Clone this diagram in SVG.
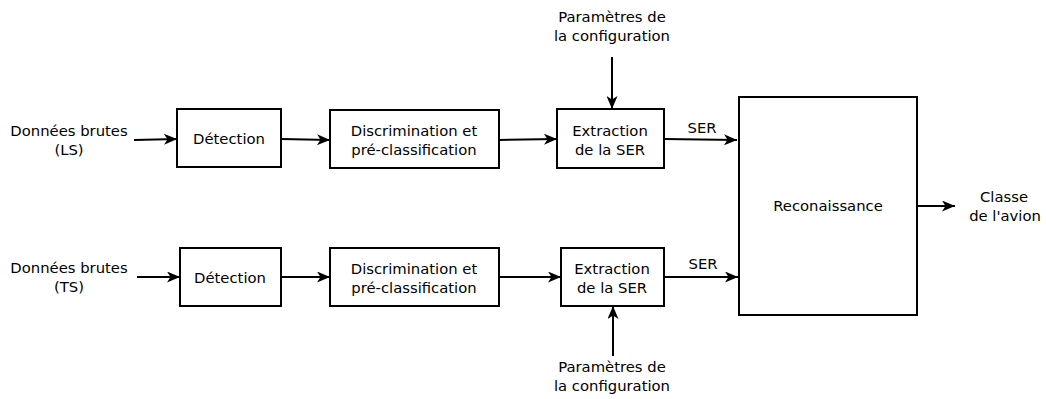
<svg xmlns="http://www.w3.org/2000/svg" width="1046" height="399" viewBox="0 0 1046 399">
<style>
.box{fill:#fff;stroke:#000;stroke-width:2}
.t{font-family:"DejaVu Sans",sans-serif;font-size:14.8px;fill:#000;text-anchor:middle}
.c{stroke:#000;stroke-width:2;fill:none;marker-end:url(#ah)}
</style>
<defs>
<marker id="ah" viewBox="0 0 13 11" refX="13" refY="5.5" markerWidth="13" markerHeight="11" markerUnits="userSpaceOnUse" orient="auto">
<path d="M0,0 L13,5.5 L0,11 L3.5,5.5 Z" fill="#000"/>
</marker>
</defs>
<rect width="1046" height="399" fill="#fff"/>
<g id="in-ls"><text class="t" x="69" y="136">Données brutes</text><text class="t" x="69" y="155">(LS)</text></g>
<g id="in-ts"><text class="t" x="69" y="273">Données brutes</text><text class="t" x="69" y="292">(TS)</text></g>
<g id="det1"><rect class="box" x="177" y="109" width="104" height="58"/><text class="t" x="229" y="144">Détection</text></g>
<g id="disc1"><rect class="box" x="330" y="110" width="169" height="58"/><text class="t" x="414" y="136">Discrimination et</text><text class="t" x="414" y="155">pré-classification</text></g>
<g id="ext1"><rect class="box" x="557" y="109" width="107" height="59"/><text class="t" x="610" y="136">Extraction</text><text class="t" x="610" y="155">de la SER</text></g>
<g id="det2"><rect class="box" x="180" y="248" width="101" height="58"/><text class="t" x="230" y="283">Détection</text></g>
<g id="disc2"><rect class="box" x="330" y="248" width="169" height="58"/><text class="t" x="414" y="274">Discrimination et</text><text class="t" x="414" y="293">pré-classification</text></g>
<g id="ext2"><rect class="box" x="561" y="248" width="103" height="58"/><text class="t" x="612" y="274">Extraction</text><text class="t" x="612" y="293">de la SER</text></g>
<g id="reco"><rect class="box" x="739" y="97" width="178" height="218"/><text class="t" x="828" y="211">Reconaissance</text></g>
<g id="param1"><text class="t" x="612" y="22">Paramètres de</text><text class="t" x="612" y="41">la configuration</text></g>
<g id="param2"><text class="t" x="612" y="372">Paramètres de</text><text class="t" x="612" y="391">la configuration</text></g>
<g id="out"><text class="t" x="1004" y="202">Classe</text><text class="t" x="1005" y="221">de l'avion</text></g>
<g id="ser1"><text class="t" x="702" y="133">SER</text></g>
<g id="ser2"><text class="t" x="703" y="269">SER</text></g>
<g id="connectors">
<path class="c" d="M134,140 L177,139"/>
<path class="c" d="M281,139 L330,140"/>
<path class="c" d="M499,140 L557,139"/>
<path class="c" d="M664,139 L737,140"/>
<path class="c" d="M612,57 L612,109"/>
<path class="c" d="M137,277 L180,277"/>
<path class="c" d="M281,277 L330,277"/>
<path class="c" d="M499,277 L561,277"/>
<path class="c" d="M664,277 L738,277"/>
<path class="c" d="M613,356 L613,306"/>
<path class="c" d="M917,206 L955,206"/>
</g>
</svg>
